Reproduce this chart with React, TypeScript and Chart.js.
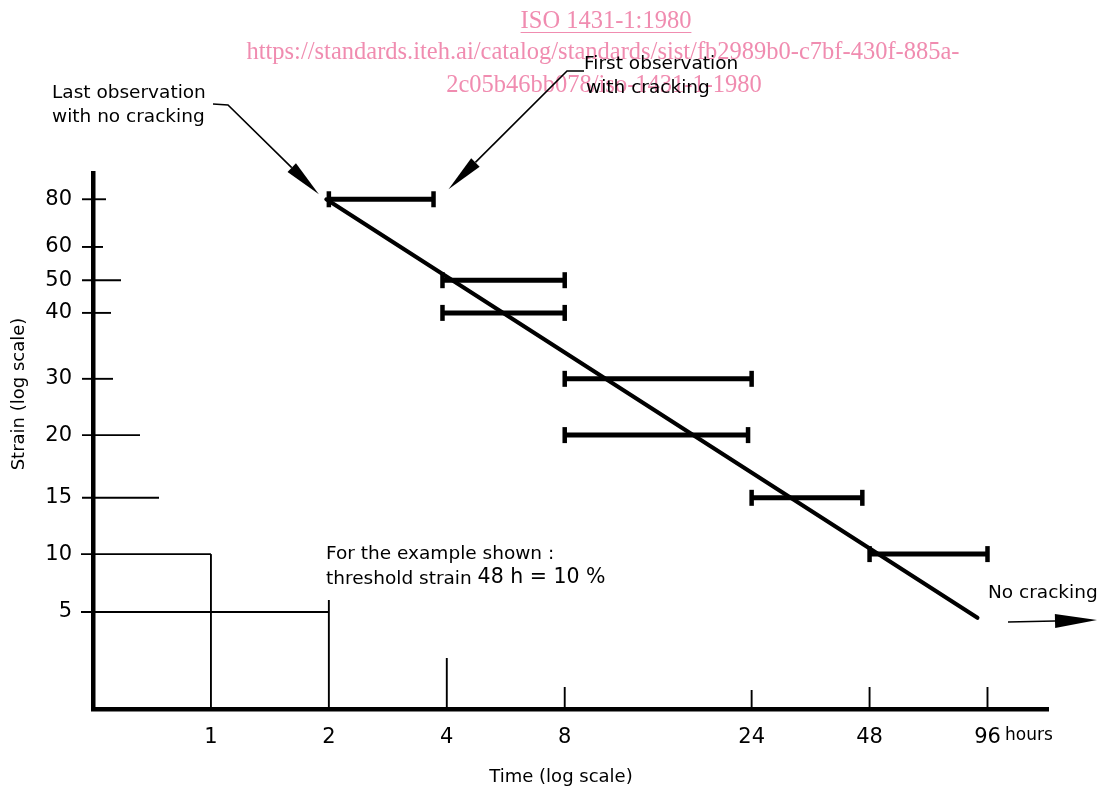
import React, { useEffect, useRef } from 'react';
import { Chart, LinearScale, registerables } from 'chart.js';

Chart.register(...registerables);

// ---------------- data ----------------
const timeTicks = [1, 2, 4, 8, 24, 48, 96];
const strainTicks = [5, 10, 15, 20, 30, 40, 50, 60, 80];

// observation intervals: last observation without cracking -> first observation with cracking
const obsStrain = [80, 50, 40, 30, 20, 15, 10];
const lastNoCrack = [2, 3.9, 3.9, 8, 8, 24, 48];
const firstCrack = [3.7, 8, 8, 24, 23.5, 46, 96];

// fitted threshold line
const trendTime = [1.97, 90.5];
const trendStrain = [80, 4.7];

// threshold reference boxes (strain, time)
const boxStrain = [10, 5];
const boxTime = [1, 2];

// ---------------- custom piecewise axis (the drawing's strain axis is hand-spaced) ----------------
class PiecewiseScale extends LinearScale {
  static id = 'piecewise';
  static defaults = {};
  stopsArr(): number[][] {
    return ((this.options as any).stops || [[0, 0], [100, 1]]) as number[][];
  }
  toDecimal(v: number) {
    const s = this.stopsArr();
    let i = 1;
    while (i < s.length - 1 && v > s[i][0]) i++;
    const [v0, f0] = s[i - 1];
    const [v1, f1] = s[i];
    return f0 + ((v - v0) * (f1 - f0)) / (v1 - v0);
  }
  fromDecimal(d: number) {
    const s = this.stopsArr();
    let i = 1;
    while (i < s.length - 1 && d > s[i][1]) i++;
    const [v0, f0] = s[i - 1];
    const [v1, f1] = s[i];
    return v0 + ((d - f0) * (v1 - v0)) / (f1 - f0);
  }
  getPixelForValue(value: number) {
    if (value === null || value === undefined || isNaN(value)) return NaN;
    return this.getPixelForDecimal(this.toDecimal(value));
  }
  getValueForPixel(pixel: number) {
    return this.fromDecimal(this.getDecimalForPixel(pixel));
  }
}
Chart.register(PiecewiseScale as any);

const FONT = '"DejaVu Sans", sans-serif';

function drawArrow(
  ctx: CanvasRenderingContext2D,
  pts: number[][],
  headLen: number,
  headHalf: number,
  lw: number
) {
  ctx.save();
  ctx.strokeStyle = '#000';
  ctx.fillStyle = '#000';
  ctx.lineWidth = lw;
  const n = pts.length;
  const [tx, ty] = pts[n - 1];
  const [px, py] = pts[n - 2];
  const ang = Math.atan2(ty - py, tx - px);
  const c = Math.cos(ang);
  const s = Math.sin(ang);
  const bx = tx - headLen * c;
  const by = ty - headLen * s;
  ctx.beginPath();
  ctx.moveTo(pts[0][0], pts[0][1]);
  for (let i = 1; i < n - 1; i++) ctx.lineTo(pts[i][0], pts[i][1]);
  ctx.lineTo(bx, by);
  ctx.stroke();
  ctx.beginPath();
  ctx.moveTo(tx, ty);
  ctx.lineTo(bx + headHalf * s, by - headHalf * c);
  ctx.lineTo(bx - headHalf * s, by + headHalf * c);
  ctx.closePath();
  ctx.fill();
  ctx.restore();
}

const watermarkPlugin = {
  id: 'watermark',
  beforeDraw(chart: any) {
    const ctx: CanvasRenderingContext2D = chart.ctx;
    ctx.save();
    ctx.fillStyle = '#f08cb0';
    ctx.strokeStyle = '#f08cb0';
    ctx.textAlign = 'center';
    ctx.textBaseline = 'middle';
    ctx.font = '24.5px "Liberation Serif", serif';
    const l1 = 'ISO 1431-1:1980';
    ctx.fillText(l1, 606, 22);
    const w1 = ctx.measureText(l1).width;
    ctx.lineWidth = 1.2;
    ctx.beginPath();
    ctx.moveTo(606 - w1 / 2, 32.5);
    ctx.lineTo(606 + w1 / 2, 32.5);
    ctx.stroke();
    ctx.fillText('https://standards.iteh.ai/catalog/standards/sist/fb2989b0-c7bf-430f-885a-', 603, 53);
    ctx.fillText('2c05b46bb078/iso-1431-1-1980', 604, 86);
    ctx.restore();
  },
};

const decorPlugin = {
  id: 'decor',
  afterDraw(chart: any, _args: any, opts: any) {
    const ctx: CanvasRenderingContext2D = chart.ctx;
    const x = chart.scales.x;
    const y = chart.scales.y;
    const area = chart.chartArea;
    const ax = area.left;
    const ab = area.bottom;
    ctx.save();
    ctx.strokeStyle = '#000';
    ctx.fillStyle = '#000';
    ctx.lineWidth = 1.9;

    // strain tick marks of varying length
    const yLen = opts.yTickLen || {};
    strainTicks.forEach((v) => {
      if (boxStrain.includes(v)) return;
      const py = y.getPixelForValue(v);
      ctx.beginPath();
      ctx.moveTo(ax - 11, py);
      ctx.lineTo(ax + (yLen[v] || 12), py);
      ctx.stroke();
    });

    // threshold reference boxes
    boxStrain.forEach((sv, i) => {
      const py = y.getPixelForValue(sv);
      const px = x.getPixelForValue(boxTime[i]);
      const over = (opts.boxOver || [])[i] || 0;
      ctx.beginPath();
      ctx.moveTo(ax - 12, py);
      ctx.lineTo(px, py);
      ctx.stroke();
      ctx.beginPath();
      ctx.moveTo(px, py - over);
      ctx.lineTo(px, ab);
      ctx.stroke();
    });

    // time tick marks
    const xLen = opts.xTickLen || {};
    timeTicks.forEach((t) => {
      if (boxTime.includes(t)) return;
      const px = x.getPixelForValue(t);
      ctx.beginPath();
      ctx.moveTo(px, ab);
      ctx.lineTo(px, ab - (xLen[t] || 20));
      ctx.stroke();
    });

    // annotation texts
    ctx.textBaseline = 'middle';
    ctx.textAlign = 'left';
    ctx.font = '18.5px ' + FONT;
    ctx.fillText('Last observation', 52, 93);
    ctx.fillText('with no cracking', 52, 117);
    ctx.fillText('First observation', 584, 64);
    ctx.fillText('with cracking', 586, 88);
    ctx.fillText('For the example shown :', 326, 554);
    const t1 = 'threshold strain ';
    ctx.fillText(t1, 326, 579);
    const w = ctx.measureText(t1).width;
    ctx.font = '20.5px ' + FONT;
    ctx.fillText('48 h = 10 %', 326 + w, 578);
    ctx.font = '18.5px ' + FONT;
    ctx.fillText('No cracking', 988, 593);
    ctx.font = '17px ' + FONT;
    ctx.fillText('hours', 1005, 736);

    // axis titles
    ctx.font = '18px ' + FONT;
    ctx.textAlign = 'center';
    ctx.fillText('Time (log scale)', 561, 777);
    ctx.save();
    ctx.translate(19, 394);
    ctx.rotate(-Math.PI / 2);
    ctx.fillText('Strain (log scale)', 0, 0);
    ctx.restore();

    // leader arrows anchored to the first interval
    const a0x = x.getPixelForValue(lastNoCrack[0]);
    const a1x = x.getPixelForValue(firstCrack[0]);
    const ay = y.getPixelForValue(obsStrain[0]);
    drawArrow(ctx, [[213, 104], [228, 105], [a0x - 10, ay - 5]], 38, 6, 1.6);
    drawArrow(ctx, [[584, 71], [567, 71], [a1x + 15, ay - 10]], 38, 6, 1.6);
    drawArrow(ctx, [[1008, 622], [1097, 620]], 42, 7, 1.6);

    ctx.restore();
  },
};

export default function App() {
  const ref = useRef<HTMLCanvasElement | null>(null);

  useEffect(() => {
    document.body.style.margin = '0';
    if (!ref.current) return;

    const datasets: any[] = obsStrain.map((s, i) => ({
      data: [
        { x: lastNoCrack[i], y: s },
        { x: firstCrack[i], y: s },
      ],
      borderColor: '#000',
      borderWidth: 5,
      pointStyle: 'line',
      pointRotation: 90,
      pointRadius: 8,
      pointBorderWidth: 4.5,
      pointBorderColor: '#000',
      pointBackgroundColor: '#000',
      fill: false,
      tension: 0,
    }));
    datasets.push({
      data: trendTime.map((t, i) => ({ x: t, y: trendStrain[i] })),
      borderColor: '#000',
      borderWidth: 4,
      borderCapStyle: 'round',
      pointRadius: 0,
      fill: false,
      tension: 0,
    });

    const chart = new Chart(ref.current, {
      type: 'line',
      data: { datasets },
      plugins: [watermarkPlugin, decorPlugin],
      options: {
        animation: false,
        responsive: true,
        maintainAspectRatio: false,
        events: [],
        layout: { padding: { top: 173, right: 56, left: 0, bottom: 0 } },
        plugins: {
          legend: { display: false },
          tooltip: { enabled: false },
          decor: {
            yTickLen: { 80: 13, 60: 10, 50: 28, 40: 18, 30: 20, 20: 47, 15: 66 },
            xTickLen: { 4: 51, 8: 22, 24: 19, 48: 22, 96: 22 },
            boxOver: [0, 12],
          },
        } as any,
        scales: {
          x: {
            type: 'logarithmic',
            min: 0.5,
            max: 137,
            afterFit: (s: any) => {
              s.height = 83;
            },
            afterBuildTicks: (s: any) => {
              s.ticks = timeTicks.map((v) => ({ value: v }));
            },
            ticks: {
              autoSkip: false,
              maxRotation: 0,
              padding: 16,
              color: '#000',
              font: { family: 'DejaVu Sans', size: 21 },
              callback: (v: any) => String(v),
            },
            grid: { display: false, drawTicks: false },
            border: { display: true, color: '#000', width: 4.5 },
          },
          y: {
            type: 'piecewise' as any,
            min: 0,
            max: 90,
            stops: [
              [0, 0],
              [5, 0.181],
              [10, 0.289],
              [15, 0.394],
              [20, 0.511],
              [30, 0.616],
              [40, 0.739],
              [50, 0.8],
              [60, 0.862],
              [80, 0.951],
              [90, 1],
            ],
            afterFit: (s: any) => {
              s.width = 93;
            },
            afterBuildTicks: (s: any) => {
              s.ticks = strainTicks.map((v) => ({ value: v }));
            },
            ticks: {
              autoSkip: false,
              padding: 21,
              color: '#000',
              font: { family: 'DejaVu Sans', size: 21 },
              callback: (v: any) => String(v),
            },
            grid: { display: false, drawTicks: false },
            border: { display: true, color: '#000', width: 4.5 },
          } as any,
        },
      },
    });
    return () => chart.destroy();
  }, []);

  return (
    <div style={{ position: 'absolute', left: 0, top: 0, width: 1104, height: 792, background: '#fff' }}>
      <canvas ref={ref} />
    </div>
  );
}
